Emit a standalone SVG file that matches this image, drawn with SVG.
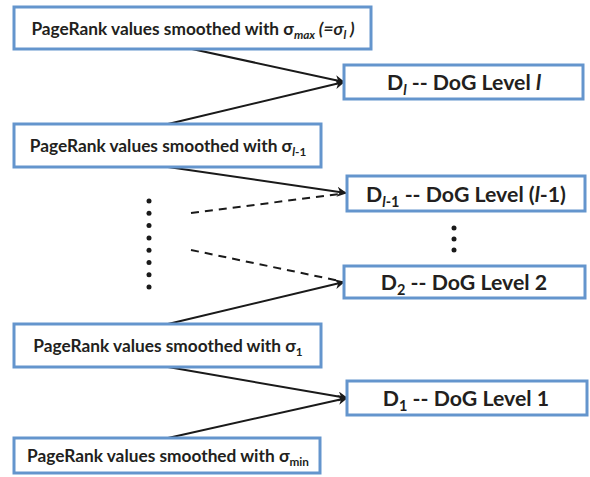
<svg xmlns="http://www.w3.org/2000/svg" width="590" height="477" viewBox="0 0 590 477">
  <defs>
    <style>
      .box { fill: #ffffff; stroke: #6495CD; stroke-width: 3; }
      .lbl { font-family: Lato, "Open Sans", "Liberation Sans", sans-serif; font-weight: bold; fill: #231f20; text-anchor: middle; }
      .src { font-size: 17.3px; }
      .dog { font-size: 21.3px; }
      .sub { font-size: 68%; }
      .it { font-style: italic; }
      .edge { stroke: #1a1a1a; stroke-width: 2; fill: none; }
      .dash { stroke-dasharray: 8 6; }
      .dot { fill: #1a1a1a; }
    </style>
    <marker id="arrow" viewBox="0 0 10 10" refX="9" refY="5" markerWidth="10" markerHeight="10" markerUnits="userSpaceOnUse" orient="auto">
      <path d="M0,0 L10,5 L0,10 L3,5 Z" fill="#1a1a1a"/>
    </marker>
  </defs>

  <!-- connectors -->
  <g id="connectors">
    <line class="edge" x1="192" y1="49" x2="344" y2="82" marker-end="url(#arrow)"/>
    <line class="edge" x1="168" y1="124" x2="344" y2="82" marker-end="url(#arrow)"/>
    <line class="edge" x1="168" y1="167" x2="346" y2="193" marker-end="url(#arrow)"/>
    <line class="edge dash" x1="191" y1="213" x2="340" y2="194"/>
    <line class="edge dash" x1="191" y1="250" x2="340" y2="281"/>
    <line class="edge" x1="168" y1="324" x2="344" y2="282" marker-end="url(#arrow)"/>
    <line class="edge" x1="168" y1="367" x2="347" y2="398" marker-end="url(#arrow)"/>
    <line class="edge" x1="168" y1="438" x2="347" y2="398" marker-end="url(#arrow)"/>
  </g>

  <!-- elided levels -->
  <g id="ellipsis-left">
    <circle class="dot" cx="149" cy="201" r="2.5"/>
    <circle class="dot" cx="149" cy="213.3" r="2.5"/>
    <circle class="dot" cx="149" cy="225.6" r="2.5"/>
    <circle class="dot" cx="149" cy="237.9" r="2.5"/>
    <circle class="dot" cx="149" cy="250.2" r="2.5"/>
    <circle class="dot" cx="149" cy="262.5" r="2.5"/>
    <circle class="dot" cx="149" cy="274.8" r="2.5"/>
    <circle class="dot" cx="149" cy="287" r="2.5"/>
  </g>
  <g id="ellipsis-right">
    <circle class="dot" cx="454" cy="228" r="2.5"/>
    <circle class="dot" cx="454" cy="239" r="2.5"/>
    <circle class="dot" cx="454" cy="250" r="2.5"/>
  </g>

  <!-- smoothed PageRank nodes -->
  <g id="pr-max">
    <rect class="box" x="14" y="7" width="357" height="42"/>
    <text class="lbl src" x="193" y="35">PageRank values smoothed with σ<tspan class="sub it" dy="4">max</tspan><tspan class="it" dy="-4"> (=σ</tspan><tspan class="sub it" dy="4">l</tspan><tspan class="it" dy="-4"> )</tspan></text>
  </g>
  <g id="pr-l-1">
    <rect class="box" x="14" y="124" width="307" height="43"/>
    <text class="lbl src" x="168" y="152">PageRank values smoothed with σ<tspan class="sub" dy="4"><tspan class="it">l</tspan>-1</tspan></text>
  </g>
  <g id="pr-1">
    <rect class="box" x="14" y="324" width="307" height="43"/>
    <text class="lbl src" x="168" y="352">PageRank values smoothed with σ<tspan class="sub" dy="4">1</tspan></text>
  </g>
  <g id="pr-min">
    <rect class="box" x="14" y="438" width="306" height="35"/>
    <text class="lbl src" x="168" y="462">PageRank values smoothed with σ<tspan class="sub" dy="4">min</tspan></text>
  </g>

  <!-- DoG level nodes -->
  <g id="dog-l">
    <rect class="box" x="344" y="65" width="239" height="34"/>
    <text class="lbl dog" x="464" y="90">D<tspan class="sub it" dy="5">l</tspan><tspan dy="-5"> -- DoG Level </tspan><tspan class="it">l</tspan></text>
  </g>
  <g id="dog-l-1">
    <rect class="box" x="347" y="176" width="238" height="35"/>
    <text class="lbl dog" x="466" y="202">D<tspan class="sub" dy="5"><tspan class="it">l</tspan>-1</tspan><tspan dy="-5"> -- DoG Level (</tspan><tspan class="it">l</tspan>-1)</text>
  </g>
  <g id="dog-2">
    <rect class="box" x="344" y="266" width="241" height="32"/>
    <text class="lbl dog" x="464" y="290">D<tspan class="sub" dy="5">2</tspan><tspan dy="-5"> -- DoG Level 2</tspan></text>
  </g>
  <g id="dog-1">
    <rect class="box" x="347" y="381" width="240" height="34"/>
    <text class="lbl dog" x="466" y="406">D<tspan class="sub" dy="5">1</tspan><tspan dy="-5"> -- DoG Level 1</tspan></text>
  </g>
</svg>
